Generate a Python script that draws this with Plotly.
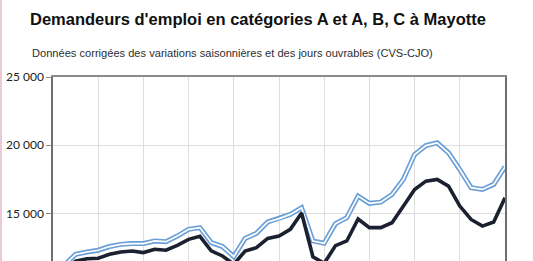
import plotly.graph_objects as go

# quarter index (x axis categories are cropped out of the reference)
trimestres = list(range(1, 41))

cat_abc = [11200, 11990, 12160, 12290, 12560, 12720, 12780, 12780, 12970, 12920,
           13330, 13820, 13950, 12850, 12560, 11820, 13160, 13530, 14370, 14610,
           14920, 15410, 12970, 12800, 14240, 14680, 16260, 15730, 15820, 16380,
           17480, 19310, 19970, 20170, 19440, 18210, 16880, 16750, 17120, 18410]

cat_a = [10900, 11480, 11660, 11700, 11990, 12160, 12230, 12120, 12360, 12290,
         12650, 13090, 13310, 12250, 11870, 11260, 12230, 12480, 13160, 13330,
         13820, 15020, 11810, 11330, 12630, 12970, 14580, 13950, 13950, 14310,
         15510, 16750, 17360, 17480, 16990, 15530, 14550, 14060, 14360, 16140]

tick_vals = [15000, 20000, 25000]
tick_text = ["15 000", "20 000", "25 000"]

title = "Demandeurs d'emploi en catégories A et A, B, C à Mayotte"
subtitle = "Données corrigées des variations saisonnières et des jours ouvrables (CVS-CJO)"

W, H = 533, 261
ml, mr, mt, mb = 53, 28, 77, 0
pw, ph = W - ml - mr, H - mt - mb

fig = go.Figure()
# A,B,C : double line (blue outline, white core)
fig.add_trace(go.Scatter(x=trimestres, y=cat_abc, mode="lines",
                         line=dict(color="#6a9fd6", width=5), showlegend=False,
                         hoverinfo="skip"))
fig.add_trace(go.Scatter(x=trimestres, y=cat_abc, mode="lines",
                         line=dict(color="#ffffff", width=1.7), showlegend=False,
                         name="Catégories A, B, C"))
# A : dark thick line
fig.add_trace(go.Scatter(x=trimestres, y=cat_a, mode="lines",
                         line=dict(color="#1b2130", width=3.6), showlegend=False,
                         name="Catégorie A"))

fig.update_layout(
    width=W, height=H,
    margin=dict(l=ml, r=mr, t=mt, b=mb, pad=0),
    paper_bgcolor="white", plot_bgcolor="white",
    title=dict(text="<b>" + title + "</b>", xref="container", yref="container",
               x=30 / W, xanchor="left", y=1 - 19.5 / H, yanchor="middle",
               font=dict(family="Liberation Sans, Arial, sans-serif", size=16.5, color="#111111")),
    annotations=[dict(text=subtitle, xref="paper", yref="paper",
                      x=(30 - ml) / pw, xanchor="left",
                      y=(H - 53) / ph, yanchor="middle", showarrow=False,
                      font=dict(family="Liberation Sans, Arial, sans-serif", size=11.1, color="#2e2e2e"))],
    shapes=[dict(type="line", xref="paper", yref="paper",
                 x0=(1 - ml) / pw, x1=(1 - ml) / pw, y0=-0.1, y1=(H + 5) / ph,
                 line=dict(color="#e3b8c6", width=1.5))],
)

fig.update_xaxes(range=[0, 40], tickvals=[4, 8, 12, 16, 20, 24, 28, 32, 36],
                 showticklabels=False, ticks="", showgrid=True,
                 gridcolor="#dedede", gridwidth=1, zeroline=False,
                 side="top", showline=True, linecolor="#8a8a8a", linewidth=1.5)
fig.update_yaxes(range=[11500, 25000], tickvals=tick_vals, ticktext=tick_text,
                 showgrid=True, gridcolor="#dedede", gridwidth=1, zeroline=False,
                 showline=True, mirror=True, linecolor="#6e6e6e", linewidth=1.5,
                 ticks="outside", ticklen=5, tickcolor="#8a8a8a",
                 tickfont=dict(family="Lato, Open Sans, sans-serif", size=12, color="#222222"))

fig.write_html("out.html")
